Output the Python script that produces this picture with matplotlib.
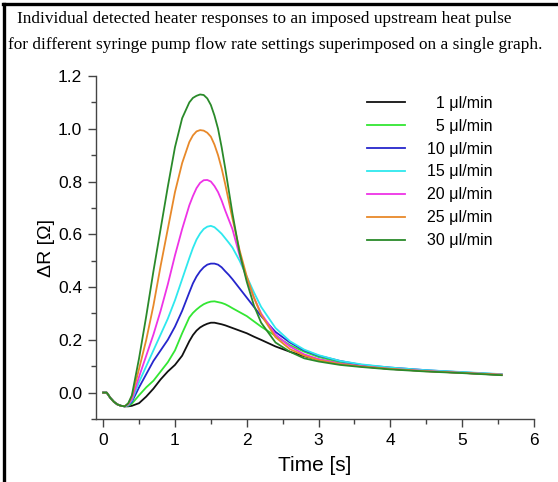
import numpy as np
import matplotlib
matplotlib.use("Agg")
import matplotlib.pyplot as plt
from matplotlib.lines import Line2D
from matplotlib.ticker import MultipleLocator

# time points (s)
t = [0.0, 0.05, 0.1, 0.15, 0.2, 0.25, 0.3, 0.35, 0.4, 0.5, 0.6, 0.7, 0.8, 0.9,
     1.0, 1.1, 1.2, 1.25, 1.3, 1.35, 1.4, 1.45, 1.5, 1.55, 1.6, 1.65, 1.7, 1.75,
     1.8, 1.9, 2.0, 2.1, 2.2, 2.4, 2.6, 2.8, 3.0, 3.3, 3.6, 4.0, 4.5, 5.0, 5.55]

start = [0.0, 0.0, -0.02, -0.035, -0.045, -0.05, -0.052]

r1 = start + [-0.052, -0.05, -0.04, -0.015, 0.015, 0.05, 0.08, 0.105, 0.14,
              0.195, 0.218, 0.235, 0.247, 0.255, 0.261, 0.265, 0.265, 0.262, 0.259, 0.255, 0.25,
              0.245, 0.235, 0.225, 0.212, 0.2,
              0.175, 0.155, 0.138, 0.125, 0.11, 0.1, 0.09, 0.082, 0.075, 0.067]
r5 = start + [-0.05, -0.042, -0.01, 0.02, 0.045, 0.08, 0.115, 0.16, 0.225,
              0.285, 0.302, 0.315, 0.326, 0.335, 0.341, 0.345, 0.346, 0.343, 0.34, 0.335, 0.328,
              0.32, 0.305, 0.29, 0.27, 0.25,
              0.215, 0.18, 0.155, 0.135, 0.115, 0.103, 0.092, 0.083, 0.076, 0.068]
r10 = start + [-0.048, -0.035, 0.02, 0.07, 0.12, 0.16, 0.2, 0.25, 0.31,
               0.38, 0.414, 0.44, 0.46, 0.475, 0.485, 0.489, 0.489, 0.485, 0.475, 0.46, 0.446,
               0.43, 0.395, 0.36, 0.325, 0.29,
               0.23, 0.19, 0.16, 0.14, 0.12, 0.105, 0.095, 0.085, 0.077, 0.069]
r15 = start + [-0.047, -0.03, 0.04, 0.1, 0.16, 0.22, 0.28, 0.35, 0.43,
               0.51, 0.548, 0.58, 0.603, 0.62, 0.629, 0.632, 0.627, 0.615, 0.602, 0.585, 0.568,
               0.55, 0.5, 0.44, 0.38, 0.325,
               0.245, 0.195, 0.163, 0.142, 0.12, 0.107, 0.095, 0.085, 0.078, 0.07]
r20 = start + [-0.045, -0.025, 0.06, 0.14, 0.22, 0.31, 0.41, 0.52, 0.62,
               0.71, 0.745, 0.775, 0.795, 0.805, 0.806, 0.8, 0.783, 0.76, 0.728, 0.69, 0.655,
               0.62, 0.52, 0.43, 0.36, 0.3,
               0.22, 0.175, 0.145, 0.127, 0.11, 0.1, 0.09, 0.082, 0.075, 0.068]
r25 = start + [-0.042, -0.015, 0.09, 0.2, 0.33, 0.48, 0.62, 0.76, 0.87,
               0.95, 0.975, 0.99, 0.995, 0.993, 0.985, 0.97, 0.94, 0.9, 0.85, 0.79, 0.725,
               0.66, 0.54, 0.44, 0.36, 0.295,
               0.21, 0.165, 0.14, 0.123, 0.108, 0.099, 0.09, 0.081, 0.075, 0.068]
r30 = start + [-0.04, -0.01, 0.13, 0.29, 0.46, 0.62, 0.78, 0.93, 1.04,
               1.10, 1.117, 1.125, 1.13, 1.128, 1.115, 1.09, 1.05, 1.0, 0.93, 0.85, 0.765,
               0.68, 0.53, 0.42, 0.33, 0.265,
               0.19, 0.155, 0.13, 0.118, 0.105, 0.097, 0.088, 0.08, 0.074, 0.066]

series = [r1, r5, r10, r15, r20, r25, r30]
labels = ["\u20071 \u03bcl/min", "\u20075 \u03bcl/min", "10 \u03bcl/min",
          "15 \u03bcl/min", "20 \u03bcl/min", "25 \u03bcl/min", "30 \u03bcl/min"]
colors = ["#111111", "#33e633", "#2626cc", "#2ee8ee", "#ee33e6", "#e8892a", "#2a8a2a"]

plt.rcParams['font.family'] = ['Liberation Sans', 'DejaVu Sans']

fig = plt.figure(figsize=(5.58, 4.82), dpi=100)
ax = fig.add_axes([0.172, 0.1307, 0.785, 0.7116])

for y, lab, c in zip(series, labels, colors):
    ax.plot(t, y, color=c, lw=1.3, label=lab)

ax.set_xlim(-0.1, 6)
ax.set_ylim(-0.1, 1.2)
ax.xaxis.set_major_locator(MultipleLocator(1))
ax.xaxis.set_minor_locator(MultipleLocator(0.5))
ax.yaxis.set_minor_locator(MultipleLocator(0.1))
ax.set_yticks(np.arange(0, 1.21, 0.2))
ax.yaxis.set_major_formatter(plt.FuncFormatter(lambda v, p: f"{v:.1f}"))

for s in ['top', 'right']:
    ax.spines[s].set_visible(False)
for s in ['left', 'bottom']:
    ax.spines[s].set_color('#444444')
    ax.spines[s].set_linewidth(1.0)
ax.tick_params(which='major', direction='out', length=6, width=1.0,
               color='#444444', labelsize=12.5, pad=4)
ax.tick_params(which='minor', direction='out', length=3.5, width=1.0, color='#444444')

ax.set_xlabel("Time [s]", fontsize=15, labelpad=6)
ax.set_ylabel("\u0394R [\u03a9]", fontsize=14, labelpad=2)

ax.legend(loc='upper left', bbox_to_anchor=(0.585, 0.985), frameon=False,
          fontsize=11.5, handlelength=2.4, handletextpad=1.4, labelspacing=0.5)

# title text
fig.text(0.030, 0.952, "Individual detected heater responses to an imposed upstream heat pulse",
         family='Liberation Serif', fontsize=12.4, va='baseline')
fig.text(0.014, 0.899, "for different syringe pump flow rate settings superimposed on a single graph.",
         family='Liberation Serif', fontsize=12.4, va='baseline')

# box lines at top and left
fig.add_artist(Line2D([0.006, 1.0], [0.992, 0.992], color='black', lw=2.4,
                      transform=fig.transFigure))
fig.add_artist(Line2D([0.008, 0.008], [0.0, 0.992], color='black', lw=2.4,
                      transform=fig.transFigure))

fig.savefig("out.png", dpi=100)
